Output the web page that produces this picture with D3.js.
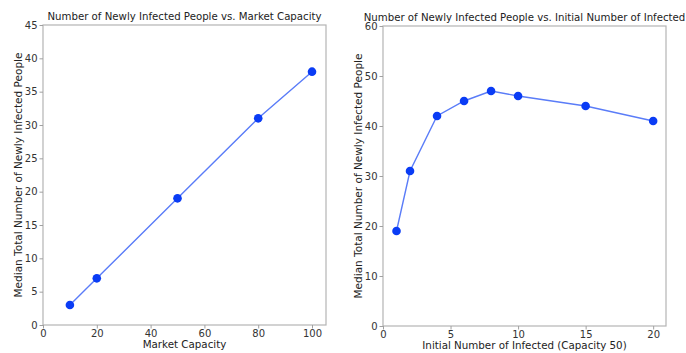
<!DOCTYPE html>
<html>
<head>
<meta charset="utf-8">
<script src="https://cdn.jsdelivr.net/npm/d3@7"></script>
<style>
  html, body { margin: 0; padding: 0; background: #fff; }
  svg { display: block; font-family: "DejaVu Sans", sans-serif; }
</style>
</head>
<body>
<svg id="chart" width="686" height="353"></svg>
<script>
// Left panel: newly infected vs. market capacity
const capacity = [10, 20, 50, 80, 100];
const infectedByCapacity = [3, 7, 19, 31, 38];
const capacityTicks = [0, 20, 40, 60, 80, 100];
const capacityYTicks = [0, 5, 10, 15, 20, 25, 30, 35, 40, 45];

// Right panel: newly infected vs. initial number of infected
const initialInfected = [1, 2, 4, 6, 8, 10, 15, 20];
const infectedByInitial = [19, 31, 42, 45, 47, 46, 44, 41];
const initialTicks = [0, 5, 10, 15, 20];
const initialYTicks = [0, 10, 20, 30, 40, 50, 60];

const yLabel = "Median Total Number of Newly Infected People";

const svg = d3.select("#chart");

function panel(cfg) {
  const g = svg.append("g");
  const x = d3.scaleLinear().domain(cfg.xDomain).range([cfg.left, cfg.right]);
  const y = d3.scaleLinear().domain(cfg.yDomain).range([cfg.bottom, cfg.top]);

  // frame
  g.append("rect")
    .attr("x", cfg.left).attr("y", cfg.top)
    .attr("width", cfg.right - cfg.left).attr("height", cfg.bottom - cfg.top)
    .attr("fill", "none").attr("stroke", "#b4b4b4").attr("stroke-width", 1.2);

  const xAxis = g.append("g")
    .attr("transform", `translate(0,${cfg.bottom})`)
    .call(d3.axisBottom(x).tickValues(cfg.xTicks).tickSize(3.5).tickPadding(1.5).tickFormat(d3.format("d")));
  const yAxis = g.append("g")
    .attr("transform", `translate(${cfg.left},0)`)
    .call(d3.axisLeft(y).tickValues(cfg.yTicks).tickSize(3.5).tickPadding(2).tickFormat(d3.format("d")));
  [xAxis, yAxis].forEach(a => {
    a.select(".domain").remove();
    a.selectAll(".tick line").attr("stroke", "#a0a0a0");
    a.selectAll(".tick text").attr("fill", "#333").attr("font-size", 10)
      .attr("font-family", "DejaVu Sans, sans-serif");
  });

  const line = d3.line().x((d, i) => x(cfg.xs[i])).y(d => y(d));
  g.append("path")
    .datum(cfg.ys)
    .attr("d", line)
    .attr("fill", "none").attr("stroke", "#5a7cf8").attr("stroke-width", 1.4);

  g.selectAll("circle.pt")
    .data(cfg.ys)
    .join("circle")
    .attr("class", "pt")
    .attr("cx", (d, i) => x(cfg.xs[i]))
    .attr("cy", d => y(d))
    .attr("r", 4.3)
    .attr("fill", "#0a3cf5");

  g.append("text")
    .attr("x", (cfg.left + cfg.right) / 2).attr("y", cfg.top - 5)
    .attr("text-anchor", "middle").attr("font-size", cfg.titleSize).attr("fill", "#222")
    .text(cfg.title);

  g.append("text")
    .attr("x", (cfg.left + cfg.right) / 2).attr("y", cfg.bottom + 23)
    .attr("text-anchor", "middle").attr("font-size", 10.3).attr("fill", "#222")
    .text(cfg.xLabel);

  g.append("text")
    .attr("transform", `translate(${cfg.yLabelX},${(cfg.top + cfg.bottom) / 2}) rotate(-90)`)
    .attr("text-anchor", "middle").attr("font-size", 10.5).attr("fill", "#222")
    .text(yLabel);
}

panel({
  left: 43, right: 326, top: 25, bottom: 325,
  xDomain: [0, 105.2], yDomain: [0, 45],
  xTicks: capacityTicks, yTicks: capacityYTicks,
  xs: capacity, ys: infectedByCapacity,
  title: "Number of Newly Infected People vs. Market Capacity", titleSize: 10.2,
  xLabel: "Market Capacity", yLabelX: 22
});

panel({
  left: 383, right: 666, top: 26, bottom: 326,
  xDomain: [0, 20.95], yDomain: [0, 60],
  xTicks: initialTicks, yTicks: initialYTicks,
  xs: initialInfected, ys: infectedByInitial,
  title: "Number of Newly Infected People vs. Initial Number of Infected", titleSize: 10.2,
  xLabel: "Initial Number of Infected (Capacity 50)", yLabelX: 362
});
</script>
</body>
</html>
